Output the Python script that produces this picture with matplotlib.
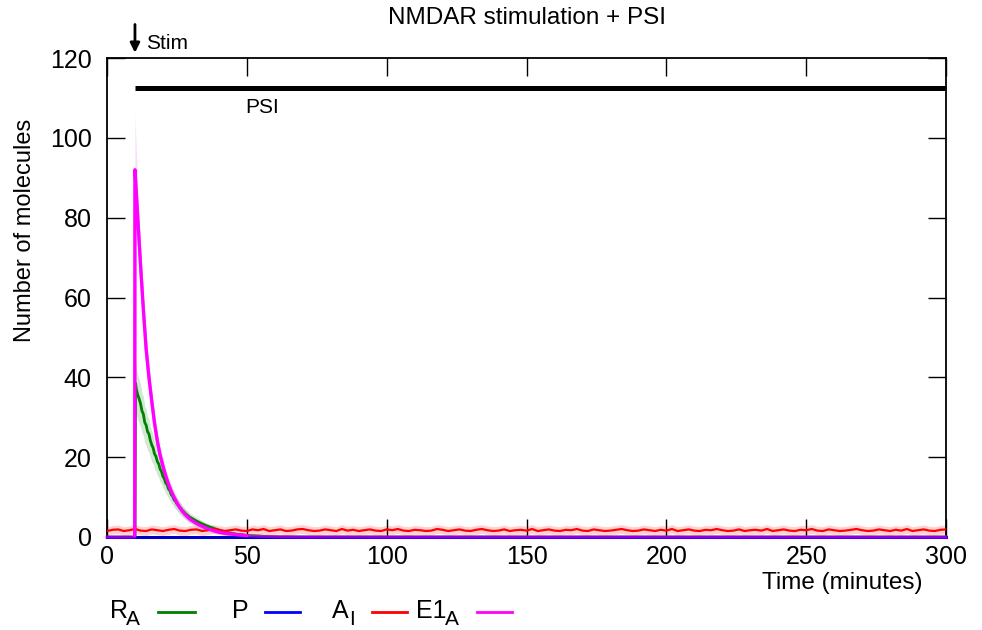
import numpy as np
import matplotlib
matplotlib.use("Agg")
import matplotlib.pyplot as plt
from matplotlib.lines import Line2D

plt.rcParams['font.family'] = ['Liberation Sans', 'DejaVu Sans']

# ---------------- data ----------------
title = "NMDAR stimulation + PSI"
legend_main = ["R", "P", "A", "E1"]
legend_sub = ["A", "", "I", "A"]
colors = ["#008000", "#0000ff", "#ff0000", "#ff00ff"]

# E1_A (magenta)
e1_t = [0, 9.9, 10.0, 11, 12, 13, 14, 15, 16, 17, 18, 19, 20, 21, 22, 23, 24, 25,
        26, 27, 28, 29, 30, 32, 34, 36, 38, 40, 43, 46, 50, 55, 60, 70, 300]
e1_v = [0, 0, 92, 80, 68, 57, 47, 40, 34, 28.5, 24, 20.5, 17.8, 15.3, 13.2, 11.4, 9.9,
        8.6, 7.4, 6.4, 5.6, 4.9, 4.3, 3.4, 2.7, 2.1, 1.6, 1.2, 0.85, 0.6, 0.35, 0.18,
        0.08, 0.02, 0]
e1_sd = [0, 0, 14, 7, 5.5, 4.5, 4, 3.5, 3.1, 2.8, 2.5, 2.3, 2.1, 1.9, 1.8, 1.7, 1.6,
         1.5, 1.4, 1.3, 1.2, 1.1, 1.0, 0.9, 0.8, 0.7, 0.6, 0.5, 0.4, 0.3, 0.2, 0.1,
         0.05, 0, 0]

# R_A (green)
ra_t = [0, 10.0, 10.2, 10.5, 11, 11.5, 12, 12.5, 13, 13.5, 14, 14.5, 15, 15.5, 16,
        16.5, 17, 17.5, 18, 18.5, 19, 19.5, 20, 20.5, 21, 21.5, 22, 22.5, 23, 23.5,
        24, 24.5, 25, 25.5, 26, 26.5, 27, 27.5, 28, 28.5, 29, 29.5, 30, 32, 34, 36,
        38, 40, 43, 46, 50, 55, 60, 70, 300]
ra_v = [0, 0, 38.5, 37.0, 35.6, 34.6, 33.4, 31.6, 30.8, 28.7, 28.0, 26.4, 25.8, 24.2,
        23.1, 22.3, 20.8, 20.2, 18.9, 18.3, 17.0, 16.4, 15.2, 14.6, 13.5, 13.1, 12.0,
        11.6, 10.6, 10.2, 9.3, 9.0, 8.3, 7.9, 7.4, 7.1, 6.6, 6.3, 5.9, 5.6, 5.3, 5.0,
        4.8, 4.0, 3.3, 2.7, 2.2, 1.7, 1.1, 0.75, 0.4, 0.2, 0.08, 0.02, 0]

# P (blue)
p_t = [0, 300]
p_v = [0, 0]

# A_I (red), every 2 minutes from 0 to 300
ai_v = [1.5, 1.8, 1.9, 1.5, 1.7, 2.0, 1.6, 1.5, 1.9, 1.7, 1.5, 1.8, 2.0, 1.6, 1.5,
        1.8, 1.9, 1.5, 1.7, 2.0, 1.8, 1.5, 1.7, 1.9, 1.6, 1.5, 1.9, 1.7, 2.0, 1.5,
        1.7, 1.9, 1.5, 1.6, 1.9, 2.0, 1.7, 1.5, 1.6, 1.9, 1.7, 1.5, 2.0, 1.6, 1.8,
        1.5, 1.7, 1.9, 1.6, 1.5, 1.9, 1.7, 2.0, 1.6, 1.5, 1.8, 1.7, 1.5, 1.6, 2.0,
        1.8, 1.5, 1.7, 1.9, 1.6, 1.5, 1.8, 2.0, 1.7, 1.5, 1.6, 1.9, 1.5, 1.7, 1.8,
        1.6, 2.0, 1.5, 1.7, 1.9, 1.6, 1.5, 1.8, 1.7, 2.0, 1.6, 1.5, 1.9, 1.7, 1.5,
        1.6, 1.8, 2.0, 1.7, 1.5, 1.6, 1.9, 1.7, 1.5, 1.8, 1.6, 2.0, 1.5, 1.7, 1.9,
        1.6, 1.5, 1.8, 1.7, 2.0, 1.7, 1.5, 1.6, 1.9, 1.5, 1.7, 1.8, 1.6, 2.0, 1.5,
        1.7, 1.9, 1.6, 1.5, 1.8, 1.7, 2.0, 1.6, 1.5, 1.9, 1.7, 1.5, 1.6, 1.8, 2.0,
        1.7, 1.5, 1.6, 1.9, 1.7, 1.5, 1.8, 1.6, 2.0, 1.5, 1.7, 1.9, 1.6, 1.5, 1.8,
        1.9]
ai_t = np.arange(0, 301, 2)
ai_sd = 1.1

x_ticks = [0, 50, 100, 150, 200, 250, 300]
y_ticks = [0, 20, 40, 60, 80, 100, 120]
stim_time = 10
psi_start, psi_end, psi_level = 10, 300, 112.5

# ---------------- figure ----------------
fig = plt.figure(figsize=(9.82, 6.3), dpi=100)
ax = fig.add_axes([107 / 982, 1 - 537 / 630, (946 - 107) / 982, (537 - 58) / 630])

ra_t_a = np.array(ra_t); ra_v_a = np.array(ra_v)
ra_sd = 0.1 * ra_v_a + 0.3 * (ra_v_a > 0)
ax.fill_between(ra_t_a, ra_v_a - ra_sd * 1.6, ra_v_a + ra_sd * 1.3,
                color=colors[0], alpha=0.18, lw=0, zorder=1)
e1_t_a = np.array(e1_t); e1_v_a = np.array(e1_v); e1_sd_a = np.array(e1_sd)
ax.fill_between(e1_t_a, np.maximum(e1_v_a - e1_sd_a, 0), e1_v_a + e1_sd_a,
                color="#c060d0", alpha=0.2, lw=0, zorder=1)
ai_v_a = np.array(ai_v)
ax.fill_between(ai_t, ai_v_a - ai_sd, ai_v_a + ai_sd,
                color=colors[2], alpha=0.18, lw=0, zorder=1)

ax.plot(ra_t, ra_v, color=colors[0], lw=2, zorder=3)
ax.plot(p_t, p_v, color="#0000cc", lw=2.2, zorder=3, clip_on=False)
ax.plot(ai_t, ai_v, color=colors[2], lw=1.6, zorder=3)
ax.plot(e1_t, e1_v, color=colors[3], lw=2.3, zorder=4, alpha=0.55, clip_on=False)
ax.plot(e1_t[1:31], e1_v[1:31], color=colors[3], lw=2.3, zorder=4)

# PSI bar
ax.plot([psi_start, psi_end], [psi_level, psi_level], color='black', lw=3.6,
        solid_capstyle='butt', zorder=5, clip_on=False)
ax.text(55.4, 107.6, "PSI", ha='center', va='center', fontsize=15)

# Stim arrow
ax.annotate('', xy=(stim_time, 1.011), xycoords=('data', 'axes fraction'),
            xytext=(stim_time, 1.07), textcoords=('data', 'axes fraction'),
            arrowprops=dict(arrowstyle='-|>', color='black', lw=2,
                            mutation_scale=14, shrinkA=0, shrinkB=0),
            annotation_clip=False)
ax.text(13.9, 1.031, "Stim", transform=ax.get_xaxis_transform(),
        ha='left', va='center', fontsize=15)

ax.set_xlim(0, 300)
ax.set_ylim(0, 120)
ax.set_xticks(x_ticks)
ax.set_yticks(y_ticks)
ax.tick_params(direction='in', length=13, width=1, top=True, right=True,
               labelsize=18, pad=6)
ax.tick_params(axis='y', pad=11)
for s in ax.spines.values():
    s.set_linewidth(1.3)

fig.text(527 / 982, 1 - 18 / 630, title, ha='center', va='center', fontsize=17.5)
fig.text(25 / 982, 1 - 230 / 630, "Number of molecules", rotation=90,
         ha='center', va='center', fontsize=17)
fig.text(922 / 982, 1 - 583 / 630, "Time (minutes)", ha='right', va='center',
         fontsize=17.5)

# legend
leg_text_x = [110, 232, 332, 416]
leg_sub_x = [126, 0, 349, 445]
leg_line_x = [(158, 195), (265, 300), (372, 407), (477, 512)]
for m, s, tx, sx, (l0, l1), c in zip(legend_main, legend_sub, leg_text_x, leg_sub_x,
                                     leg_line_x, colors):
    fig.text(tx / 982, 1 - 618 / 630, m, ha='left', va='baseline', fontsize=18)
    if s:
        fig.text(sx / 982, 1 - 625 / 630, s, ha='left', va='baseline', fontsize=15)
    fig.add_artist(Line2D([l0 / 982, l1 / 982], [1 - 612 / 630, 1 - 612 / 630],
                          color=c, lw=2, transform=fig.transFigure))

fig.savefig("out.png", dpi=100)
